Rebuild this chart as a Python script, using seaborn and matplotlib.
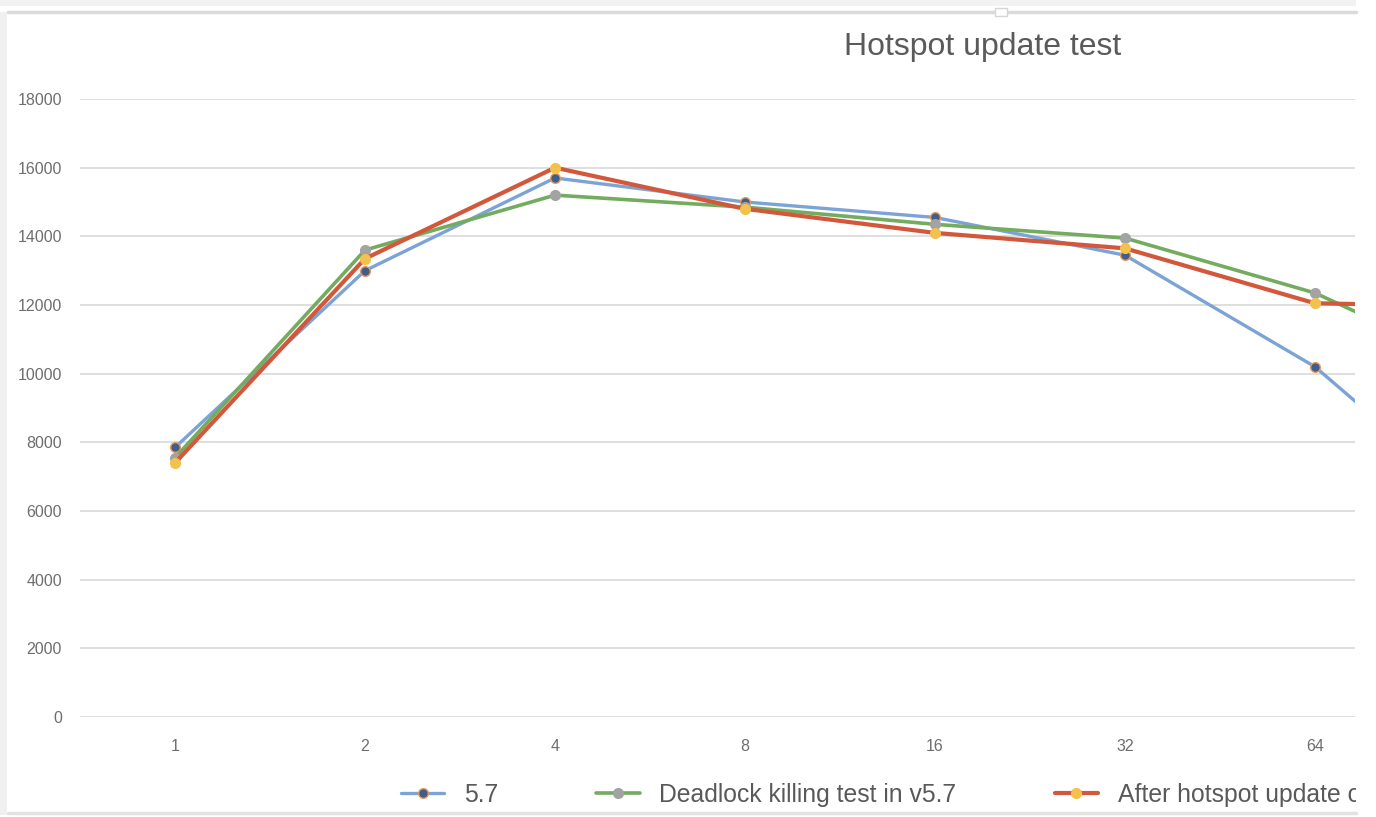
import matplotlib
matplotlib.use("Agg")
import matplotlib.pyplot as plt
from matplotlib.patches import Rectangle
from matplotlib.lines import Line2D
import seaborn as sns
import pandas as pd

# ---- data ----
categories = ["1", "2", "4", "8", "16", "32", "64", "128"]
series_names = ["5.7", "Deadlock killing test in v5.7", "After hotspot update optimization"]
v57 = [7850, 13000, 15700, 15000, 14550, 13450, 10200, 5450]
deadlock = [7550, 13600, 15200, 14850, 14350, 13950, 12350, 9800]
hotspot = [7400, 13350, 16000, 14800, 14100, 13650, 12050, 11950]
y_ticks = [0, 2000, 4000, 6000, 8000, 10000, 12000, 14000, 16000, 18000]

W, H = 1376, 817
sns.set_theme(style="white")
plt.rcParams["font.family"] = ["Liberation Sans", "DejaVu Sans"]

fig = plt.figure(figsize=(W / 100, H / 100), dpi=100)
fig.patch.set_facecolor("white")

def fx(px):
    return px / W

def fy(py):
    return 1 - py / H

ax = fig.add_axes([fx(80), fy(717), fx(1355) - fx(80), fy(99) - fy(717)])

rows = []
for name, vals in zip(series_names, [v57, deadlock, hotspot]):
    for i, (c, v) in enumerate(zip(categories, vals)):
        rows.append({"pos": i, "cat": c, "series": name, "value": v})
df = pd.DataFrame(rows)

styles = {
    "5.7": dict(color="#7BA3D6", lw=2.4, mfc="#3F5E8C", mec="#E89A5C"),
    "Deadlock killing test in v5.7": dict(color="#73AC5F", lw=2.6, mfc="#A3A3A3", mec="#A3A3A3"),
    "After hotspot update optimization": dict(color="#D2573B", lw=3.0, mfc="#F2C14E", mec="#F2C14E"),
}

handles = []
for name in series_names:
    st = styles[name]
    sub = df[df["series"] == name]
    sns.lineplot(data=sub, x="pos", y="value", ax=ax, color=st["color"], linewidth=st["lw"],
                 marker="o", markersize=7, markerfacecolor=st["mfc"], markeredgecolor=st["mec"],
                 markeredgewidth=1.0, legend=False, sort=False, zorder=3)
    handles.append(Line2D([0], [0], color=st["color"], lw=st["lw"], marker="o", markersize=7,
                          markerfacecolor=st["mfc"], markeredgecolor=st["mec"]))

ax.set_xticks(range(len(categories)))
ax.set_xticklabels(categories)
ax.set_yticks(y_ticks)
ax.set_yticklabels([str(t) for t in y_ticks])
ax.set_xlim(-0.5, (1355 - 175) / 190)
ax.set_ylim(0, 18000)
ax.set_xlabel("")
ax.set_ylabel("")
ax.grid(axis="y", color="#DCDCDC", linewidth=1.3)
ax.grid(axis="x", visible=False)
ax.set_axisbelow(True)
for s in ax.spines.values():
    s.set_visible(False)
ax.tick_params(axis="y", length=0, pad=13, labelsize=11.5, labelcolor="#6E6E6E")
ax.tick_params(axis="x", length=0, pad=16, labelsize=11.5, labelcolor="#6E6E6E")

fig.text(fx(983), fy(47), "Hotspot update test", ha="center", va="center",
         fontsize=23, color="#5A5A5A")

leg = fig.legend(handles, series_names, loc="center left", bbox_to_anchor=(fx(401), fy(795)),
                 ncol=3, frameon=False, fontsize=17.8, handlelength=1.75, handletextpad=0.8,
                 columnspacing=3.97, labelcolor="#595959", borderpad=0, borderaxespad=0)

# crop on the right, as in the screenshot
fig.add_artist(Rectangle((fx(1356), 0), 1 - fx(1356), 1, transform=fig.transFigure,
                         facecolor="white", edgecolor="none", zorder=20))
# window frame
fig.add_artist(Rectangle((0, fy(6)), fx(1356), fy(0) - fy(6), transform=fig.transFigure,
                         facecolor="#F2F2F2", edgecolor="none", zorder=21))
fig.add_artist(Line2D([fx(8), fx(1356)], [fy(12), fy(12)], transform=fig.transFigure,
                      color="#DADADA", lw=2.5, zorder=21))
fig.add_artist(Line2D([fx(8), fx(1356)], [fy(813), fy(813)], transform=fig.transFigure,
                      color="#E2E2E2", lw=2.5, zorder=21))
fig.add_artist(Rectangle((0, fy(815)), fx(7), fy(12) - fy(815), transform=fig.transFigure,
                         facecolor="#F0F0F0", edgecolor="none", zorder=21))
fig.add_artist(Rectangle((fx(995), fy(16)), fx(12), fy(8) - fy(16), transform=fig.transFigure,
                         facecolor="white", edgecolor="#D5D5D5", lw=1, zorder=22))

fig.savefig("out.png", dpi=100, facecolor="white")
